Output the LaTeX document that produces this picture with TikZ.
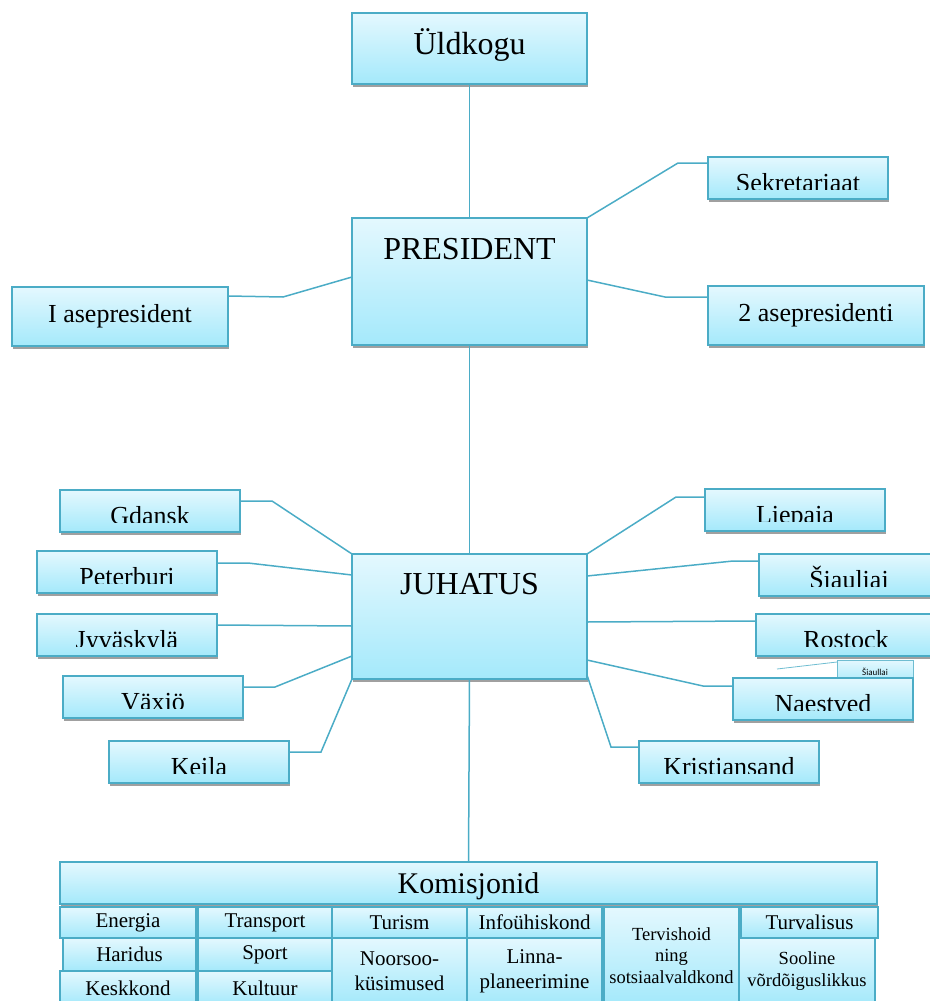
\documentclass[tikz,border=0pt]{standalone}
\usepackage[svgnames]{xcolor}
\usepackage{fontspec}
\setmainfont{Liberation Serif}
\newfontfamily\calibrifont{Carlito}
\usepackage{tikz}
\usetikzlibrary{shadows}
\definecolor{boxline}{RGB}{75,172,198}
\definecolor{boxtop}{RGB}{228,248,254}
\definecolor{boxbottom}{RGB}{164,233,251}
\definecolor{boxshadow}{RGB}{160,160,160}
\tikzset{
  % box colours
  box fill/.style = {
    draw=boxline, line width=1.6pt,
    top color=boxtop, bottom color=boxbottom,
    inner sep=0pt, outer sep=0pt, anchor=north west,
  },
  org box/.style = {
    box fill,
    drop shadow={shadow xshift=1pt, shadow yshift=-3pt, opacity=1, fill=boxshadow},
  },
  % big boxes, text near the top
  head box/.style 2 args = {
    org box, minimum width=235pt,
    text height=#1pt, text depth=#2pt,
    font=\fontsize{32}{38}\selectfont,
  },
  % boxes beside the president
  side box/.style = {
    org box, minimum width=216pt, minimum height=59pt,
    font=\fontsize{26}{30}\selectfont,
  },
  % city boxes, the text is cut off at the bottom
  city box/.style = {
    org box, minimum width=180pt, minimum height=42pt,
    path picture={
      \clip (path picture bounding box.north west)
        rectangle ([yshift=10pt]path picture bounding box.south east);
      \node[anchor=base, inner sep=0pt, font=\fontsize{26}{30}\selectfont]
        at ([yshift=8pt]path picture bounding box.south) {#1};
    },
  },
  small box/.style = {
    box fill, line width=0.8pt, draw=boxline!80,
    minimum width=76pt, text height=15pt, text depth=10pt,
    font=\calibrifont\fontsize{9}{11}\selectfont,
  },
  % commission cells
  cell/.style 2 args = {
    box fill, minimum width=#1pt, minimum height=#2pt,
    align=center, font=\fontsize{21}{25}\selectfont,
  },
  small cell/.style 2 args = {
    cell={#1}{#2}, font=\fontsize{18.5}{21.5}\selectfont,
  },
  % connectors
  link/.style = {draw=boxline, line width=1.5pt},
  thin link/.style = {draw=boxline!80, line width=0.8pt},
}

\begin{document}
\begin{tikzpicture}[x=1pt, y=-1pt]
  \useasboundingbox (0,0) rectangle (929,1001);
  % top part
  \node[head box={41}{30}] (uld) at (352,13) {Üldkogu};
  \node[head box={41}{86}] (pres) at (352,218) {PRESIDENT};
  \node[city box=Sekretariaat] (sek) at (708,157) {};
  \node[side box] (ase1) at (12,287) {I asepresident};
  \node[side box] (ase2) at (708,286) {2 asepresidenti};
  % board and partner cities
  \node[head box={40}{85}] (juh) at (352,554) {JUHATUS};
  \node[city box=Gdansk] (gda) at (60,490) {};
  \node[city box=Peterburi] (pet) at (37,551) {};
  \node[city box=Jyväskylä] (jyv) at (37,614) {};
  \node[city box=Växjö] (vax) at (63,676) {};
  \node[city box=Keila] (kei) at (109,741) {};
  \node[city box=Liepaja] (lie) at (705,489) {};
  \node[city box=Šiauliai] (sia) at (759,554) {};
  \node[city box=Rostock] (ros) at (756,614) {};
  \node[small box] (sia2) at (837,660) {Šiaullai};
  \coordinate (siafree) at (777,669);
  \node[city box=Naestved] (nae) at (733,678) {};
  \node[city box=Kristiansand] (kri) at (639,741) {};
  % commissions
  \node[org box, minimum width=817pt, text height=31pt, text depth=11pt,
        font=\fontsize{30}{36}\selectfont] (kom) at (60,862) {Komisjonid};
  \node[cell={136}{31}] (ene) at (60,907) {Energia};
  \node[cell={133}{33}] (har) at (63,938) {Haridus};
  \node[cell={136}{34}] (kes) at (60,971) {Keskkond};
  \node[cell={134}{31}] (tra) at (198,907) {Transport};
  \node[cell={134}{33}] (spo) at (198,938) {Sport};
  \node[cell={134}{34}] (kul) at (198,971) {Kultuur};
  \node[cell={135}{31}] (tur) at (332,907) {Turism};
  \node[cell={135}{66}] (noo) at (332,938) {Noorsoo-\\küsimused};
  \node[cell={135}{31}] (inf) at (467,907) {Infoühiskond};
  \node[cell={135}{66}] (lin) at (467,938) {Linna-\\planeerimine};
  \node[small cell={135}{97}] (ter) at (604,907) {Tervishoid\\ning\\sotsiaalvaldkond};
  \node[cell={137}{31}] (tuv) at (741,907) {Turvalisus};
  \node[small cell={136}{66}] (soo) at (739,938) {Sooline\\võrdõiguslikkus};
  % connectors
  \draw[link] (uld.south) -- (pres.north);
  \draw[link] (pres.north east) -- (678,163) -- (sek.west |- 0,163);
  \draw[link] (ase1.east |- 0,296) -- (283,297) -- (pres.west |- 0,277);
  \draw[link] (pres.east |- 0,280) -- (665,297) -- (ase2.west |- 0,297);
  \draw[link] (pres.south) -- (juh.north);
  \draw[link] (gda.east |- 0,501) -- (272,501) -- (juh.north west);
  \draw[link] (pet.east |- 0,563) -- (248,563) -- (juh.west |- 0,575);
  \draw[link] (jyv.east |- 0,625) -- (juh.west |- 0,626);
  \draw[link] (vax.east |- 0,687) -- (275,687) -- (juh.west |- 0,656);
  \draw[link] (kei.east |- 0,752) -- (321,752) -- (juh.south west);
  \draw[link] (juh.north east) -- (676,497) -- (lie.west |- 0,497);
  \draw[link] (juh.east |- 0,576) -- (733,561) -- (sia.west |- 0,561);
  \draw[link] (juh.east |- 0,622) -- (ros.west |- 0,621);
  \draw[link] (juh.east |- 0,660) -- (703,686) -- (nae.west |- 0,686);
  \draw[link] (juh.east |- 0,675) -- (611,747) -- (kri.west |- 0,747);
  \draw[thin link] (siafree) -- (sia2.west |- 0,662);
  \draw[link] (juh.south) -- (kom.north);
\end{tikzpicture}
\end{document}
